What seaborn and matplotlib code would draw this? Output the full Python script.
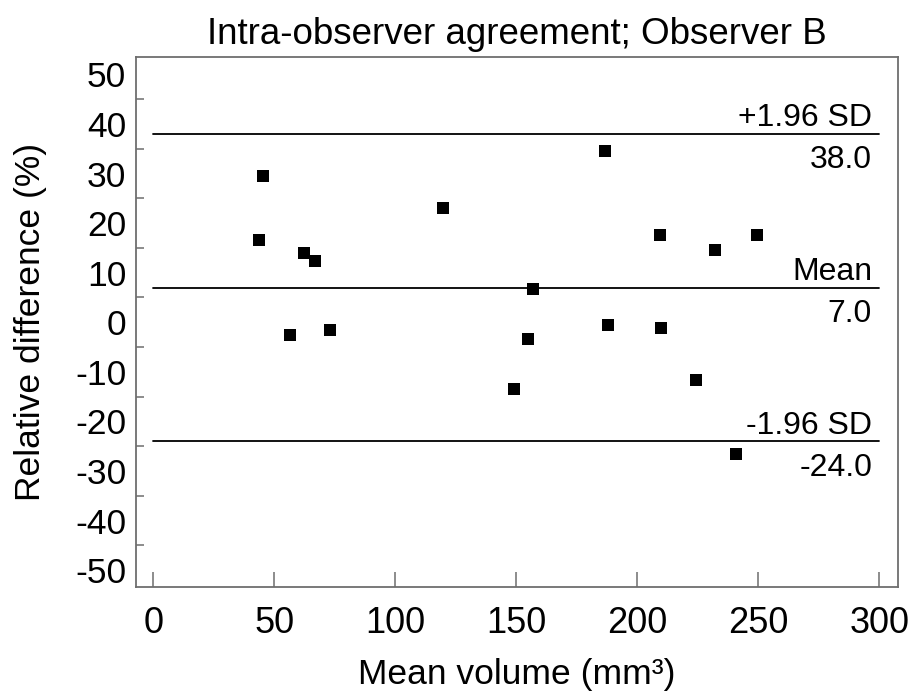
import matplotlib
matplotlib.use("Agg")
import matplotlib.pyplot as plt
import seaborn as sns
import pandas as pd
from matplotlib.ticker import MultipleLocator

mean_volume = [43.8, 45.3, 56.4, 62.3, 66.7, 73.1, 119.7, 148.9, 154.8, 156.9,
               186.7, 188.0, 209.5, 209.9, 224.4, 232.2, 240.7, 249.5]
rel_diff = [16.6, 29.5, -2.5, 13.9, 12.3, -1.6, 23.1, -13.4, -3.3, 6.8,
            34.5, -0.6, 17.6, -1.2, -11.6, 14.6, -26.6, 17.6]
line_values = [38.0, 7.0, -24.0]
line_labels = ["+1.96 SD", "Mean", "-1.96 SD"]
value_labels = ["38.0", "7.0", "-24.0"]
x_ticks = [0, 50, 100, 150, 200, 250, 300]
y_ticks = [-50, -40, -30, -20, -10, 0, 10, 20, 30, 40, 50]

sns.set_theme(style="white")
plt.rcParams["font.family"] = ["Liberation Sans", "DejaVu Sans"]
plt.rcParams["axes.unicode_minus"] = False
plt.rcParams["text.color"] = "black"
plt.rcParams["axes.labelcolor"] = "black"

df = pd.DataFrame({"x": mean_volume, "y": rel_diff})

fig = plt.figure(figsize=(9.17, 7.0), dpi=100)
ax = fig.add_axes([136 / 917, 1 - 587 / 700, (898 - 136) / 917, (587 - 57) / 700])

sns.scatterplot(data=df, x="x", y="y", marker="s", s=70, color="black",
                linewidth=0, ax=ax, zorder=3)

for v, lab, val in zip(line_values, line_labels, value_labels):
    ax.plot([0, 300], [v, v], color="black", lw=1.3, zorder=2)
    ax.annotate(lab, xy=(297, v), xytext=(0, 0.5), textcoords="offset points",
                ha="right", va="bottom", fontsize=23, color="black")
    ax.annotate(val, xy=(297, v), xytext=(0, -8.3), textcoords="offset points",
                ha="right", va="top", fontsize=23, color="black")

ax.set_xlim(-7.2, 307.7)
ax.set_ylim(-53.4, 53.5)
ax.set_xticks(x_ticks)
ax.set_yticks(y_ticks)
ax.set_xticklabels([str(t) for t in x_ticks])
ax.set_yticklabels([str(t) for t in y_ticks])
ax.yaxis.set_minor_locator(MultipleLocator(5))

spine_col = "#6e6e6e"
for s in ax.spines.values():
    s.set_color(spine_col)
    s.set_linewidth(1.3)
    s.set_visible(True)

ax.tick_params(axis="both", which="both", direction="in", colors=spine_col,
               labelcolor="black", width=1.1)
ax.tick_params(axis="y", which="major", length=11, pad=7, labelsize=25.5)
ax.tick_params(axis="y", which="minor", length=6, left=True)
ax.tick_params(axis="x", which="major", length=11, pad=14, labelsize=26,
               bottom=True)

ax.set_xlabel("Mean volume (mm³)", fontsize=25.5, labelpad=12)
ax.set_ylabel("Relative difference (%)", fontsize=25.5, labelpad=20)
ax.set_title("Intra-observer agreement; Observer B", fontsize=26.5, pad=9,
             color="black",
             family=["Liberation Sans Narrow", "Liberation Sans", "DejaVu Sans"])

fig.savefig("out.png", dpi=100)
